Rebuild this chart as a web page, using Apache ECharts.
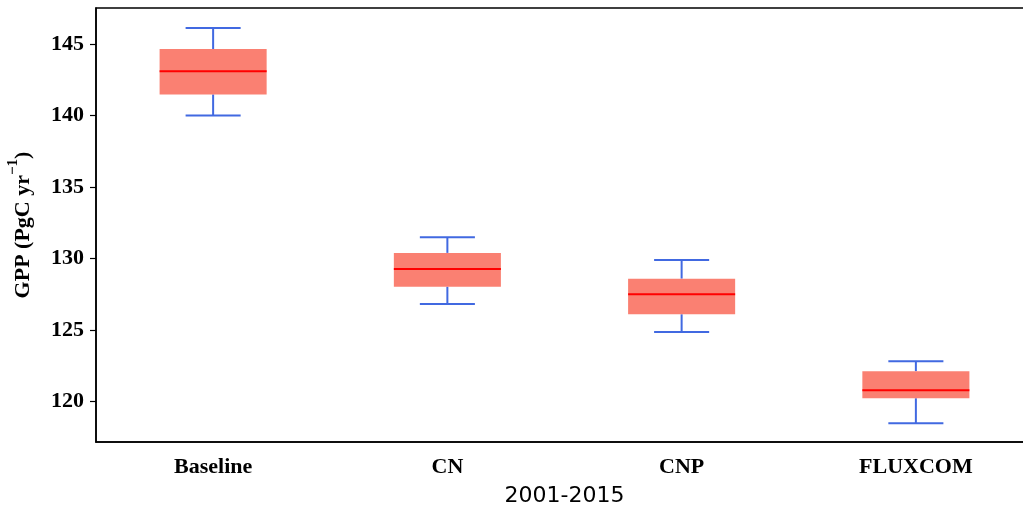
<!DOCTYPE html>
<html>
<head>
<meta charset="utf-8">
<script src="https://cdn.jsdelivr.net/npm/echarts@6/dist/echarts.min.js"></script>
<style>
html,body{margin:0;padding:0;background:#fff;}
#chart{width:1023px;height:509px;}
</style>
</head>
<body>
<div id="chart"></div>
<script>
const categories = ['Baseline', 'CN', 'CNP', 'FLUXCOM'];
const whiskerLow = [140.01, 126.83, 124.87, 118.49];
const q1 = [141.48, 128.04, 126.11, 120.24];
const median = [143.09, 129.28, 127.51, 120.80];
const q3 = [144.65, 130.40, 128.60, 122.13];
const whiskerHigh = [146.12, 131.50, 129.91, 122.83];
const yTicks = [120, 125, 130, 135, 140, 145];

const data = categories.map((c, i) => [i, whiskerLow[i], q1[i], median[i], q3[i], whiskerHigh[i]]);

const chart = echarts.init(document.getElementById('chart'), null, {renderer: 'canvas'});
const serifBold = {fontFamily: 'Liberation Serif', fontWeight: 'bold', color: '#000'};

chart.setOption({
  animation: false,
  backgroundColor: '#fff',
  grid: {left: 96, right: -10, top: 8, bottom: 67, containLabel: false, outerBoundsMode: 'none', show: true, borderColor: '#000', borderWidth: 1.5, backgroundColor: 'transparent'},
  xAxis: {
    type: 'category',
    data: categories,
    boundaryGap: true,
    name: '2001-2015',
    nameLocation: 'middle',
    nameGap: 43,
    nameTextStyle: {fontFamily: 'DejaVu Sans', fontSize: 22, color: '#000', verticalAlign: 'top'},
    axisLine: {lineStyle: {color: '#000', width: 1.5}},
    axisTick: {alignWithLabel: true, length: 6, lineStyle: {color: '#000', width: 1.2}},
    axisLabel: Object.assign({fontSize: 22, margin: 14}, serifBold),
    splitLine: {show: false}
  },
  yAxis: {
    type: 'value',
    min: 117.18,
    max: 147.52,
    name: '{a|GPP (PgC yr}{s|−1}{a|)}',
    nameLocation: 'middle',
    nameGap: 62,
    nameRotate: 90,
    nameTextStyle: {
      rich: {
        a: Object.assign({fontSize: 22, verticalAlign: 'bottom', lineHeight: 28}, serifBold),
        s: Object.assign({fontSize: 15, verticalAlign: 'top', lineHeight: 28}, serifBold)
      }
    },
    axisLine: {show: true, lineStyle: {color: '#000', width: 1.5}},
    axisTick: {show: true, length: 6, customValues: yTicks, lineStyle: {color: '#000', width: 1.2}},
    axisLabel: Object.assign({fontSize: 22, margin: 12, customValues: yTicks}, serifBold),
    splitLine: {show: false}
  },
  series: [{
    type: 'custom',
    data: data,
    encode: {x: 0, y: [1, 2, 3, 4, 5]},
    renderItem: function (params, api) {
      const x = api.value(0);
      const pLow = api.coord([x, api.value(1)]);
      const pQ1 = api.coord([x, api.value(2)]);
      const pMed = api.coord([x, api.value(3)]);
      const pQ3 = api.coord([x, api.value(4)]);
      const pHigh = api.coord([x, api.value(5)]);
      const band = api.size([1, 0])[0];
      const bw = band * 0.457;
      const cw = band * 0.235;
      const cx = pMed[0];
      const wStyle = {stroke: '#4169E1', lineWidth: 2, fill: null};
      return {
        type: 'group',
        children: [
          {type: 'line', shape: {x1: cx, y1: pQ1[1], x2: cx, y2: pLow[1]}, style: wStyle},
          {type: 'line', shape: {x1: cx, y1: pQ3[1], x2: cx, y2: pHigh[1]}, style: wStyle},
          {type: 'line', shape: {x1: cx - cw / 2, y1: pLow[1], x2: cx + cw / 2, y2: pLow[1]}, style: wStyle},
          {type: 'line', shape: {x1: cx - cw / 2, y1: pHigh[1], x2: cx + cw / 2, y2: pHigh[1]}, style: wStyle},
          {type: 'rect', shape: {x: cx - bw / 2, y: pQ3[1], width: bw, height: pQ1[1] - pQ3[1]}, style: {fill: '#FA8072', stroke: null}},
          {type: 'line', shape: {x1: cx - bw / 2, y1: pMed[1], x2: cx + bw / 2, y2: pMed[1]}, style: {stroke: '#FF0000', lineWidth: 2}}
        ]
      };
    }
  }]
});
</script>
</body>
</html>
